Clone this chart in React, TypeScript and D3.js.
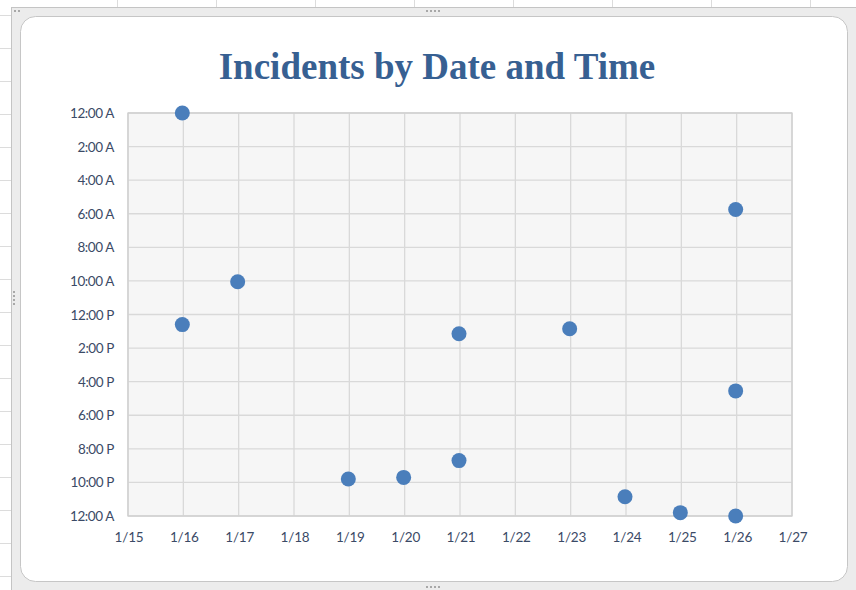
import React from "react";
import * as d3 from "d3";

// ---- data ----
const incidentDays: number[] = [16, 16, 17, 19, 20, 21, 21, 23, 24, 25, 26, 26, 26]; // January day
const incidentHours: number[] = [0.0, 12.6, 10.05, 21.8, 21.7, 20.7, 13.15, 12.85, 22.85, 23.8, 24.0, 5.75, 16.55];
const xTickDays: number[] = [15, 16, 17, 18, 19, 20, 21, 22, 23, 24, 25, 26, 27];
const yTickHours: number[] = [0, 2, 4, 6, 8, 10, 12, 14, 16, 18, 20, 22, 24];
const yTickLabels: string[] = ["12:00 A", "2:00 A", "4:00 A", "6:00 A", "8:00 A", "10:00 A", "12:00 P", "2:00 P", "4:00 P", "6:00 P", "8:00 P", "10:00 P", "12:00 A"];
const chartTitle = "Incidents by Date and Time";

const W = 856;
const H = 590;
const plot = { left: 128, right: 792, top: 113, bottom: 516 };

export default function App() {
  const x = d3.scaleLinear().domain([15, 27]).range([plot.left, plot.right]);
  const y = d3.scaleLinear().domain([0, 24]).range([plot.top, plot.bottom]);

  const sheetCols = d3.range(8).map((i) => 117 + 99 * i);
  const sheetRows = d3.range(18).map((i) => 15 + 33 * i);
  const labelColor = "#3b4a66";
  const font = "Lato, 'Open Sans', sans-serif";

  return (
    <svg width={W} height={H} style={{ position: "absolute", left: 0, top: 0, display: "block" }}>
      <rect x={0} y={0} width={W} height={H} fill="#ffffff" />
      {/* spreadsheet grid behind */}
      {sheetCols.map((cx) => (
        <line key={"c" + cx} x1={cx + 0.5} x2={cx + 0.5} y1={0} y2={H} stroke="#dcdcdc" />
      ))}
      {sheetRows.map((ry) => (
        <line key={"r" + ry} x1={0} x2={W} y1={ry + 0.5} y2={ry + 0.5} stroke="#dcdcdc" />
      ))}
      {/* chart selection band */}
      <rect x={11.5} y={7.5} width={W} height={H} fill="#ececec" stroke="#c4c4c4" />
      <rect x={20.5} y={16.5} width={827} height={565} rx={15} ry={15} fill="#ffffff" stroke="#c6c6c6" />
      {/* handles */}
      {[0, 1, 2, 3].map((i) => (
        <rect key={"ht" + i} x={426 + i * 4} y={10} width={2} height={2} fill="#a8a8a8" />
      ))}
      {[0, 1, 2, 3].map((i) => (
        <rect key={"hb" + i} x={426 + i * 4} y={586} width={2} height={2} fill="#a8a8a8" />
      ))}
      {[0, 1, 2, 3].map((i) => (
        <rect key={"hl" + i} x={13} y={291 + i * 4} width={2} height={2} fill="#a8a8a8" />
      ))}
      {[0, 1].map((i) => (
        <rect key={"hc" + i} x={14 + i * 4} y={10} width={2} height={2} fill="#a8a8a8" />
      ))}

      {/* title */}
      <text x={437} y={79} textAnchor="middle" fontFamily="'Liberation Serif', 'Times New Roman', serif" fontWeight="bold" fontSize={37} fill="#376092">
        {chartTitle}
      </text>

      {/* plot area */}
      <rect x={plot.left} y={plot.top} width={plot.right - plot.left} height={plot.bottom - plot.top} fill="#f6f6f6" />
      {xTickDays.map((d) => (
        <line key={"gx" + d} x1={x(d)} x2={x(d)} y1={plot.top} y2={plot.bottom} stroke="#d9d9d9" strokeWidth={1.3} />
      ))}
      {yTickHours.map((h) => (
        <line key={"gy" + h} x1={plot.left} x2={plot.right} y1={y(h)} y2={y(h)} stroke="#d9d9d9" strokeWidth={1.3} />
      ))}
      <rect x={plot.left} y={plot.top} width={plot.right - plot.left} height={plot.bottom - plot.top} fill="none" stroke="#cfcfcf" strokeWidth={1.3} />

      {/* axis labels */}
      {yTickHours.map((h, i) => (
        <text key={"yl" + h} x={114} y={y(h) + 5} textAnchor="end" fontFamily={font} fontSize={13.5} fill={labelColor} letterSpacing={-0.4}>
          {yTickLabels[i]}
        </text>
      ))}
      {xTickDays.map((d) => (
        <text key={"xl" + d} x={x(d) + 1} y={542} textAnchor="middle" fontFamily={font} fontSize={13.5} fill={labelColor} letterSpacing={-0.2}>
          {"1/" + d}
        </text>
      ))}

      {/* points */}
      {incidentDays.map((d, i) => (
        <circle key={"p" + i} cx={x(d) - 1} cy={y(incidentHours[i])} r={7.5} fill="#4a7ebb" />
      ))}
    </svg>
  );
}
